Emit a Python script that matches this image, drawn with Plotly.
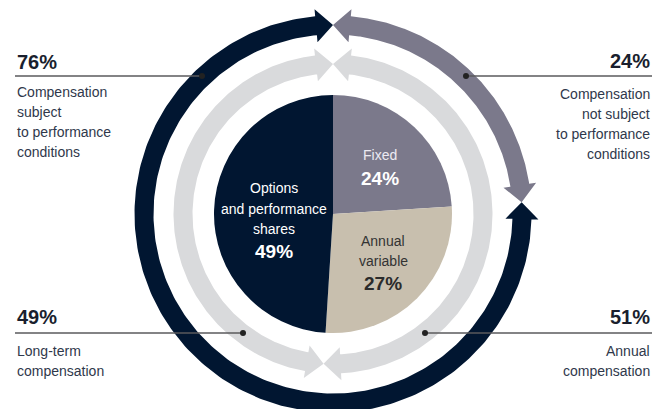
import numpy as np
import plotly.graph_objects as go

W, H = 662, 409

# Pay mix shown as the central pie (percent of total compensation)
mix_labels = ["Fixed", "Annual variable", "Options and performance shares"]
mix_values = [24, 27, 49]
mix_colors = ["#7b798b", "#c8bfae", "#011631"]
mix_text_colors = ["#ffffff", "#2b2b2b", "#ffffff"]

# Outer ring: compensation not subject / subject to performance conditions
perf_labels = [["Compensation", "not subject", "to performance", "conditions"],
               ["Compensation", "subject", "to performance", "conditions"]]
perf_values = [24, 76]
perf_colors = ["#7b798b", "#011631"]

# Middle ring: annual vs long-term compensation
term_labels = [["Annual", "compensation"], ["Long-term", "compensation"]]
term_values = [51, 49]
term_colors = ["#d9dadc", "#d9dadc"]

# Geometry (pixels)
cx, cy = 333, 214
r_pie = 119
r_term = 150
r_perf = 189

BODY_FONT = "Liberation Sans, Arial, sans-serif"
BOLD_FONT = "Liberation Sans, Arial, sans-serif"
BODY_SIZE = 14
TEXT_COLOR = "#2f384b"
PCT_COLOR = "#1a1f2e"


def polar_xy(share, r):
    t = 2 * np.pi * np.asarray(share, dtype=float) / 100.0
    return cx + r * np.sin(t), cy - r * np.cos(t)


def double_arrow(p0, p1, rc, hw=9.5, hh=16.5, hl=17):
    """Closed outline of a ring segment from share p0 to p1 with a head at both ends."""
    d = hl / rc * 100 / (2 * np.pi)
    arc = np.linspace(p0 + d, p1 - d, 240)
    shares = np.concatenate([[p0, p0 + d], arc, [p1 - d, p1, p1 - d], arc[::-1], [p0 + d, p0]])
    radii = np.concatenate([[rc, rc + hh], np.full(arc.size, rc + hw),
                            [rc + hh, rc, rc - hh], np.full(arc.size, rc - hw),
                            [rc - hh, rc]])
    return polar_xy(shares, radii)


fig = go.Figure()


def add_ring(values, colors, rc):
    start = 0.0
    for v, c in zip(values, colors):
        x, y = double_arrow(start, start + v, rc)
        fig.add_trace(go.Scatter(x=x, y=y, mode="lines", fill="toself", fillcolor=c,
                                 line=dict(width=0), hoverinfo="skip", showlegend=False))
        start += v


add_ring(perf_values, perf_colors, r_perf)
add_ring(term_values, term_colors, r_term)

# Central pie
fig.add_trace(go.Pie(
    labels=mix_labels, values=mix_values, sort=False, direction="clockwise", rotation=0,
    marker=dict(colors=mix_colors, line=dict(width=0)), textinfo="none",
    hoverinfo="label+percent", showlegend=False,
    domain=dict(x=[(cx - r_pie) / W, (cx + r_pie) / W],
                y=[1 - (cy + r_pie) / H, 1 - (cy - r_pie) / H]),
))

annotations = []


def text(x, y, s, size, color, xanchor="center", bold=False):
    annotations.append(dict(
        x=x, y=y, xref="x", yref="y", text=f"<b>{s}</b>" if bold else s,
        showarrow=False, xanchor=xanchor, yanchor="middle",
        font=dict(size=size, color=color, family=BOLD_FONT if bold else BODY_FONT)))


def lines(x, y0, rows, color, xanchor="center", step=20):
    for i, row in enumerate(rows):
        text(x, y0 + i * step, row, BODY_SIZE, color, xanchor)


# Pie slice labels
lines(380, 155, ["Fixed"], "#eceaf2")
text(380, 178.5, f"{mix_values[0]}%", 19, mix_text_colors[0], bold=True)
lines(383, 240.5, ["Annual", "variable"], "#333333")
text(383, 283, f"{mix_values[1]}%", 19, mix_text_colors[1], bold=True)
lines(274, 188, ["Options", "and performance", "shares"], "#ffffff", step=20.5)
text(274, 251, f"{mix_values[2]}%", 19, mix_text_colors[2], bold=True)

# Callouts: leader line from the page edge to a dot on the ring, value above, label below
callouts = [
    (perf_values[1], perf_labels[1], "left", 76, 61.5, 92),
    (perf_values[0], perf_labels[0], "right", 76, 61, 94),
    (term_values[1], term_labels[1], "left", 333, 317, 351),
    (term_values[0], term_labels[0], "right", 333, 317, 351),
]
dots = [(202, 76), (466, 76), (243, 333), (425, 333)]
for (val, rows, side, ly, py, by), (dx, dy) in zip(callouts, dots):
    x_edge = 15 if side == "left" else 652
    fig.add_trace(go.Scatter(x=[x_edge, dx], y=[ly, ly], mode="lines",
                             line=dict(color="#5a5a5c", width=1.5),
                             hoverinfo="skip", showlegend=False))
    fig.add_trace(go.Scatter(x=[dx], y=[dy], mode="markers",
                             marker=dict(color="#222222", size=6),
                             hoverinfo="skip", showlegend=False))
    anchor = "left" if side == "left" else "right"
    text(x_edge, py, f"{val}%", 20, PCT_COLOR, xanchor=anchor, bold=True)
    lines(x_edge, by, rows, TEXT_COLOR, xanchor=anchor)

fig.update_layout(
    width=W, height=H, margin=dict(l=0, r=0, t=0, b=0),
    paper_bgcolor="white", plot_bgcolor="white",
    xaxis=dict(range=[0, W], visible=False, fixedrange=True),
    yaxis=dict(range=[H, 0], visible=False, fixedrange=True),
    annotations=annotations,
)

fig.write_html("out.html")
